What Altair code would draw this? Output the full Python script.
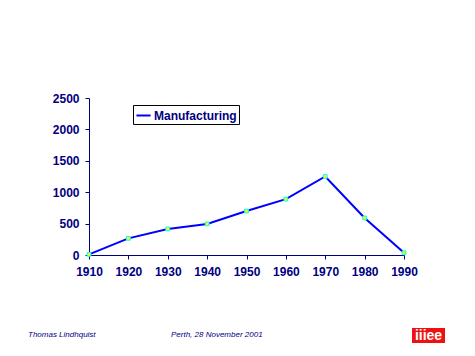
import altair as alt
import pandas as pd

years = [1910, 1920, 1930, 1940, 1950, 1960, 1970, 1980, 1990]
values = [10, 265, 415, 495, 700, 890, 1250, 590, 35]
series = ["Manufacturing"] * len(years)
x_ticks = [1910, 1920, 1930, 1940, 1950, 1960, 1970, 1980, 1990]
y_ticks = [0, 500, 1000, 1500, 2000, 2500]

df = pd.DataFrame({"year": years, "value": values, "series": series})

NAVY = "#000080"
FONT = "Liberation Sans"

x_enc = alt.X("year:Q", scale=alt.Scale(domain=[1910, 1990], nice=False, zero=False),
              axis=alt.Axis(values=x_ticks, format="d", title=None, grid=False,
                            domainColor=NAVY, tickColor=NAVY, tickSize=4,
                            labelColor=NAVY, labelFont=FONT, labelFontSize=12,
                            labelFontWeight="bold", labelPadding=7, labelFlush=False,
                            labelOverlap=False))
y_enc = alt.Y("value:Q", scale=alt.Scale(domain=[0, 2500], nice=False),
              axis=alt.Axis(values=y_ticks, format="d", title=None, grid=False,
                            domainColor=NAVY, tickColor=NAVY, tickSize=4,
                            labelColor=NAVY, labelFont=FONT, labelFontSize=12,
                            labelFontWeight="bold", labelPadding=6, labelOverlap=False))

line = alt.Chart(df).mark_line(strokeWidth=2).encode(
    x=x_enc, y=y_enc,
    color=alt.Color("series:N", scale=alt.Scale(domain=["Manufacturing"], range=["#0000FF"]),
                    legend=alt.Legend(title=None, orient="none", legendX=44, legendY=7,
                                      strokeColor="black", fillColor="white", padding=2,
                                      symbolType="stroke", symbolSize=200, symbolStrokeWidth=2,
                                      labelFont=FONT, labelFontSize=12, labelFontWeight="bold",
                                      labelColor=NAVY, labelOffset=2, cornerRadius=0)),
)

pts = alt.Chart(df).mark_point(shape="square", size=14, filled=False, fill="#FFFF00",
                               fillOpacity=1, stroke="#00FFFF", strokeWidth=1, opacity=1).encode(
    x=x_enc, y=y_enc
)

def label(txt, x, y, **kw):
    return alt.Chart(pd.DataFrame({"t": [txt]})).mark_text(**kw).encode(
        text="t:N", x=alt.value(x), y=alt.value(y))

author = label("Thomas Lindhquist", -61, 237, font=FONT, fontSize=8, fontStyle="italic",
               color=NAVY, align="left", baseline="middle")
place = label("Perth, 28 November 2001", 82, 237, font=FONT, fontSize=8, fontStyle="italic",
              color=NAVY, align="left", baseline="middle")

logo_box = alt.Chart(pd.DataFrame({"t": ["logo"]})).mark_rect(color="#EE1111").encode(
    x=alt.value(323), x2=alt.value(356), y=alt.value(230), y2=alt.value(245))
logo_txt = label("iiiee", 339.5, 238, font=FONT, fontSize=14, fontWeight="bold",
                 color="white", align="center", baseline="middle")

chart = alt.layer(line, pts, author, place, logo_box, logo_txt).properties(
    width=315, height=157,
    autosize=alt.AutoSizeParams(type="none"),
    padding={"left": 81, "top": 90, "right": 63, "bottom": 93},
    background="white",
).configure_view(stroke=None)

chart.save("out.html", embed_options={"renderer": "svg", "actions": False})
